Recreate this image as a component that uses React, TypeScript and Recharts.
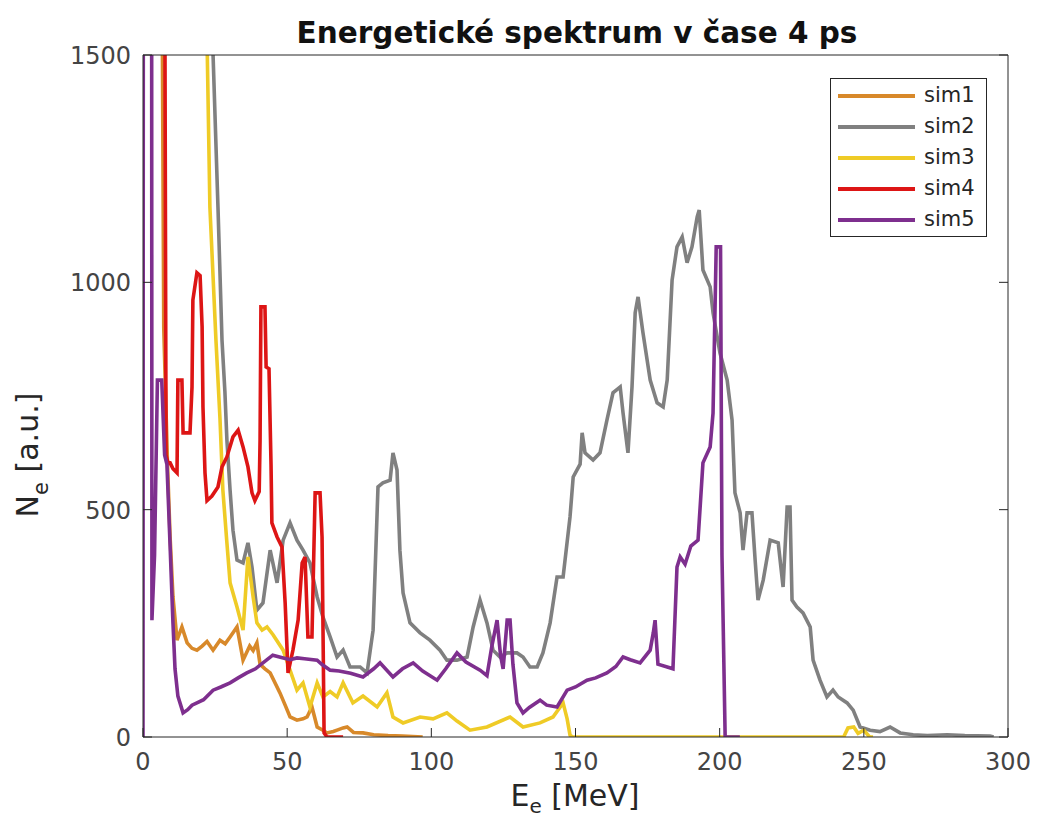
import React from 'react';
import { LineChart, Line, XAxis, YAxis, Legend } from 'recharts';

// ---- axis ticks ----
const X_TICKS = [0, 50, 100, 150, 200, 250, 300];
const Y_TICKS = [0, 500, 1000, 1500];

// ---- series names / colours ----
const SERIES_NAMES = ['sim1', 'sim2', 'sim3', 'sim4', 'sim5'];
const SERIES_COLORS = ['#D8892A', '#808080', '#EFCB26', '#DD1515', '#7E2F8E'];

// ---- data: [E_e (MeV), N_e (a.u.)] ----
const sim1: [number, number][] = [
  [5.6, 3000], [7.2, 900], [8.5, 600], [9.4, 440], [10.4, 308], [11.8, 213], [13.5, 242], [15.3, 207],
  [17.0, 195], [18.7, 191], [20.5, 200], [22.2, 210], [24.3, 191], [26.7, 213], [28.5, 205], [30.2, 220],
  [32.6, 242], [34.7, 169], [37.0, 200], [38.2, 190], [39.5, 207], [40.6, 160], [42.3, 150], [44.1, 141],
  [47.5, 97], [49.3, 70], [51.0, 44], [53.4, 37], [55.5, 40], [56.9, 44], [58.6, 66], [60.4, 22],
  [62.4, 15], [63.8, 9], [66.0, 12], [67.3, 15], [69.4, 20], [70.8, 22], [73.0, 10], [76.3, 9],
  [80.0, 5], [85.0, 3], [90.0, 2], [97.0, 0],
];

const sim2: [number, number][] = [
  [23.8, 3000], [24.3, 1500], [26.0, 1166], [27.4, 873], [28.4, 760], [29.1, 653], [30.2, 543], [31.2, 455],
  [32.6, 389], [34.7, 383], [36.4, 427], [37.8, 374], [39.5, 279], [41.6, 295], [44.1, 411], [46.5, 339],
  [48.6, 433], [51.0, 471], [53.4, 433], [55.5, 411], [57.9, 383], [60.4, 308], [62.4, 264], [64.9, 220],
  [67.3, 176], [69.4, 191], [71.8, 154], [75.3, 154], [77.7, 141], [79.8, 235], [81.5, 550], [83.2, 559],
  [85.7, 565], [86.7, 625], [88.1, 587], [89.1, 411], [90.2, 317], [92.6, 251], [96.1, 229], [99.5, 213],
  [103.0, 191], [105.4, 169], [108.9, 169], [112.4, 176], [114.5, 242], [116.9, 301], [119.3, 251], [121.4, 191],
  [123.8, 176], [126.3, 185], [129.7, 185], [131.8, 176], [134.2, 154], [136.7, 154], [138.7, 185], [141.2, 251],
  [143.6, 352], [145.7, 352], [148.1, 484], [149.2, 572], [151.6, 600], [152.3, 669], [153.3, 625], [156.1, 609],
  [158.5, 625], [160.9, 697], [163.0, 757], [165.5, 770], [166.5, 712], [168.2, 625], [169.6, 770], [170.7, 933],
  [171.7, 968], [173.4, 889], [175.9, 785], [178.3, 735], [180.4, 726], [181.8, 785], [183.5, 1005], [185.2, 1078],
  [187.0, 1100], [188.7, 1043], [190.4, 1078], [192.2, 1144], [192.9, 1159], [194.2, 1027], [196.7, 990], [197.7, 933],
  [200.1, 845], [202.6, 785], [204.3, 697], [205.3, 537], [207.1, 493], [208.1, 411], [209.5, 493], [211.2, 493],
  [212.3, 389], [213.3, 301], [215.1, 345], [217.5, 433], [220.3, 427], [222.0, 330], [223.4, 506], [224.4, 506],
  [225.1, 301], [226.8, 286], [228.9, 273], [231.4, 242], [232.4, 169], [234.8, 125], [237.2, 88], [239.3, 103],
  [241.1, 88], [244.2, 75], [246.3, 59], [248.7, 22], [252.2, 15], [255.6, 12], [259.1, 22], [262.6, 9],
  [267.1, 5], [272.0, 3], [278.9, 5], [285.0, 3], [293.8, 2], [295.0, 0],
];

const sim3: [number, number][] = [
  [21.5, 3000], [22.3, 1500], [23.2, 1166], [25.3, 873], [26.7, 700], [27.7, 543], [29.1, 427], [30.2, 339],
  [32.6, 286], [34.7, 235], [36.4, 396], [38.2, 308], [39.5, 251], [41.3, 235], [43.0, 242], [45.1, 225],
  [48.6, 191], [51.0, 147], [53.4, 103], [55.5, 119], [57.9, 66], [60.4, 119], [62.4, 88], [64.9, 100],
  [67.3, 88], [69.4, 119], [72.8, 75], [76.3, 90], [81.2, 66], [84.6, 97], [86.7, 44], [90.2, 31],
  [96.1, 44], [100.6, 40], [105.4, 53], [108.9, 35], [113.4, 15], [119.3, 22], [127.3, 44], [131.8, 22],
  [137.7, 31], [142.2, 44], [145.7, 75], [147.1, 40], [148.1, 4], [149.0, 0], [243.0, 0], [244.5, 20],
  [246.5, 22], [248.0, 8], [250.0, 15], [252.0, 0], [253.2, 0],
];

const sim4: [number, number][] = [
  [7.0, 3000], [8.0, 620], [8.7, 603], [9.4, 603], [10.4, 590], [11.8, 581], [12.1, 785], [13.5, 785],
  [13.9, 669], [16.3, 669], [17.0, 770], [17.3, 961], [18.7, 1021], [19.8, 1015], [20.5, 902], [20.8, 726],
  [21.5, 581], [22.2, 520], [23.9, 530], [26.0, 550], [27.4, 594], [29.1, 616], [31.2, 660], [33.0, 675],
  [34.7, 638], [36.4, 594], [37.8, 537], [38.8, 520], [40.3, 540], [40.6, 653], [40.9, 946], [42.3, 946],
  [42.7, 814], [43.7, 810], [44.4, 600], [44.7, 471], [46.5, 440], [48.2, 418], [49.3, 295], [50.3, 141],
  [52.0, 191], [53.8, 257], [55.2, 383], [56.2, 396], [57.2, 220], [58.6, 220], [59.7, 537], [61.4, 537],
  [62.1, 440], [62.8, 9], [63.8, 0], [69.4, 0],
];

const sim5: [number, number][] = [
  [0, 0], [0.2, 3000], [2.9, 3000], [3.1, 257], [4.0, 400], [5.0, 785], [6.5, 785], [7.5, 620],
  [8.3, 600], [9.4, 420], [10.4, 250], [11.1, 150], [12.1, 90], [13.9, 53], [15.5, 60], [17.0, 70],
  [18.7, 75], [21.0, 82], [24.3, 103], [27.0, 110], [30.2, 119], [33.0, 130], [36.0, 141], [39.0, 150],
  [41.6, 163], [45.0, 180], [48.0, 175], [51.0, 170], [53.4, 174], [56.0, 172], [60.4, 169], [62.0, 160],
  [64.9, 147], [68.0, 145], [72.0, 140], [76.3, 132], [80.0, 150], [82.2, 163], [86.7, 132], [90.0, 150],
  [93.7, 163], [97.0, 145], [102.0, 125], [105.0, 150], [108.9, 185], [112.0, 165], [116.9, 147], [119.3, 135],
  [121.0, 200], [122.8, 257], [124.0, 180], [124.9, 150], [126.3, 257], [127.3, 257], [128.3, 160], [129.7, 75],
  [131.8, 53], [134.0, 65], [137.7, 81], [140.0, 70], [143.6, 66], [147.1, 103], [150.0, 110], [154.0, 125],
  [157.0, 130], [160.9, 141], [164.0, 155], [166.5, 176], [169.0, 170], [172.4, 163], [175.9, 191], [177.0, 230],
  [177.6, 257], [178.6, 160], [181.8, 154], [183.8, 150], [185.2, 374], [186.3, 396], [188.0, 380], [190.0, 420],
  [192.5, 433], [194.2, 603], [196.7, 638], [197.7, 712], [198.8, 1078], [200.3, 1078], [200.8, 400], [201.9, 0],
  [207.0, 0],
];

const SERIES_DATA = [sim1, sim2, sim3, sim4, sim5];

const toRows = (pts: [number, number][]) => pts.map(([e, n]) => ({ e, n }));

const AXIS = '#262626';
const TICK_TEXT = '#444444';
const TICK_LEN = 9;
const FONT = 'DejaVu Sans';

const BottomTick = (props: any) => {
  const { x, y, payload } = props;
  return (
    <g>
      <line x1={x} x2={x} y1={y} y2={y - TICK_LEN} stroke={AXIS} strokeWidth={1} />
      <text x={x} y={y + 33} textAnchor="middle" fontSize={24} fontFamily={FONT} fill={TICK_TEXT}>
        {payload.value}
      </text>
    </g>
  );
};

const LeftTick = (props: any) => {
  const { x, y, payload } = props;
  return (
    <g>
      <line x1={x} x2={x + TICK_LEN} y1={y} y2={y} stroke={AXIS} strokeWidth={1} />
      <text x={x - 12} y={y + 9} textAnchor="end" fontSize={24} fontFamily={FONT} fill={TICK_TEXT}>
        {payload.value}
      </text>
    </g>
  );
};

const TopTick = (props: any) => {
  const { x, y } = props;
  return <line x1={x} x2={x} y1={y} y2={y + TICK_LEN} stroke={AXIS} strokeWidth={1} />;
};

const RightTick = (props: any) => {
  const { x, y } = props;
  return <line x1={x} x2={x - TICK_LEN} y1={y} y2={y} stroke={AXIS} strokeWidth={1} />;
};

const renderLegend = (props: any) => {
  const payload = props.payload || [];
  return (
    <div
      style={{
        border: `1px solid ${AXIS}`,
        background: '#fff',
        width: 157,
        height: 159,
        boxSizing: 'border-box',
        paddingTop: 1,
      }}
    >
      {payload.map((item: any) => (
        <div key={item.value} style={{ display: 'flex', alignItems: 'center', height: 31 }}>
          <span style={{ display: 'inline-block', width: 77, height: 4, background: item.color, marginLeft: 7 }} />
          <span style={{ marginLeft: 9, fontSize: 21, fontFamily: FONT, color: '#262626', lineHeight: '31px' }}>
            {item.value}
          </span>
        </div>
      ))}
    </div>
  );
};

export default function App() {
  const W = 1030;
  const H = 815;
  return (
    <div style={{ position: 'relative', width: W, height: H, background: '#fff' }}>
      <LineChart width={W} height={H} margin={{ top: 37, right: 20, bottom: 36, left: 55 }}>
        <XAxis
          xAxisId={0}
          dataKey="e"
          type="number"
          domain={[0, 300]}
          ticks={X_TICKS}
          interval={0}
          allowDataOverflow
          height={50}
          tickSize={0}
          tickMargin={0}
          tickLine={false}
          axisLine={{ stroke: AXIS }}
          tick={(p: any) => <BottomTick {...p} />}
        />
        <XAxis
          xAxisId="top"
          orientation="top"
          type="number"
          domain={[0, 300]}
          ticks={X_TICKS}
          interval={0}
          allowDataOverflow
          height={10}
          tickSize={0}
          tickMargin={0}
          tickLine={false}
          axisLine={{ stroke: AXIS }}
          tick={(p: any) => <TopTick {...p} />}
        />
        <YAxis
          yAxisId={0}
          type="number"
          domain={[0, 1500]}
          ticks={Y_TICKS}
          interval={0}
          allowDataOverflow
          width={80}
          tickSize={0}
          tickMargin={0}
          tickLine={false}
          axisLine={{ stroke: AXIS }}
          tick={(p: any) => <LeftTick {...p} />}
        />
        <YAxis
          yAxisId="right"
          orientation="right"
          type="number"
          domain={[0, 1500]}
          ticks={Y_TICKS}
          interval={0}
          allowDataOverflow
          width={10}
          tickSize={0}
          tickMargin={0}
          tickLine={false}
          axisLine={{ stroke: AXIS }}
          tick={(p: any) => <RightTick {...p} />}
        />
        {SERIES_DATA.map((pts, i) => (
          <Line
            key={SERIES_NAMES[i]}
            xAxisId={0}
            yAxisId={0}
            data={toRows(pts)}
            dataKey="n"
            name={SERIES_NAMES[i]}
            stroke={SERIES_COLORS[i]}
            strokeWidth={3.6}
            dot={false}
            activeDot={false}
            type="linear"
            isAnimationActive={false}
          />
        ))}
        <Legend
          layout="vertical"
          align="center"
          verticalAlign="middle"
          content={renderLegend}
          wrapperStyle={{ left: 822, top: 70, width: 157, height: 159 }}
        />
      </LineChart>
      <svg
        width={W}
        height={H}
        style={{ position: 'absolute', left: 0, top: 0, pointerEvents: 'none' }}
      >
        <text x={569} y={35} textAnchor="middle" fontSize={29.5} fontWeight="bold" fontFamily={FONT} fill="#111">
          Energetické spektrum v čase 4 ps
        </text>
        <text x={567} y={798} textAnchor="middle" fontSize={30} fontFamily={FONT} fill="#262626">
          E<tspan fontSize={20} dy={7}>e</tspan>
          <tspan dy={-7}> [MeV]</tspan>
        </text>
        <text
          x={30}
          y={447}
          textAnchor="middle"
          fontSize={30}
          fontFamily={FONT}
          fill="#262626"
          transform="rotate(-90 30 447)"
        >
          N<tspan fontSize={21} dy={10}>e</tspan>
          <tspan dy={-10}> [a.u.]</tspan>
        </text>
      </svg>
    </div>
  );
}
